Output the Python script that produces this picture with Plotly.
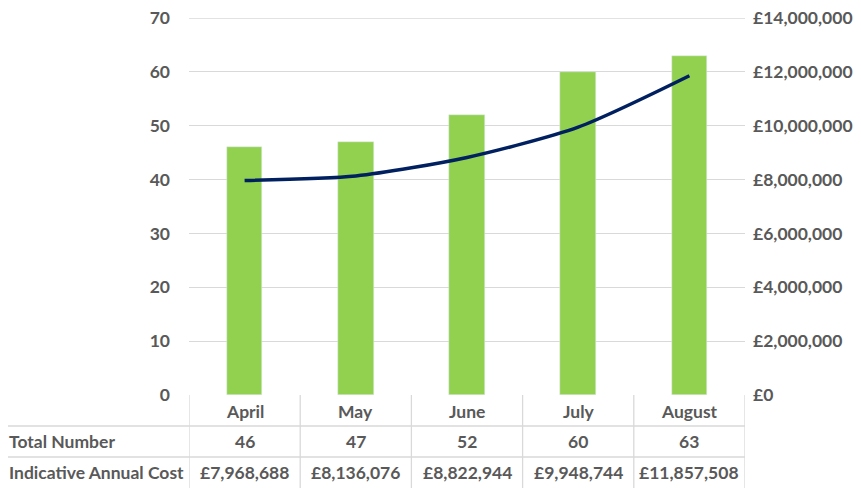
import plotly.graph_objects as go

months = ["April", "May", "June", "July", "August"]
total_number = [46, 47, 52, 60, 63]
annual_cost = [7968688, 8136076, 8822944, 9948744, 11857508]
row_labels = ["Total Number", "Indicative Annual Cost"]
left_ticks = [0, 10, 20, 30, 40, 50, 60, 70]
right_ticks = [0, 2000000, 4000000, 6000000, 8000000, 10000000, 12000000, 14000000]

FONT = "Lato"
TXT = "#595959"
GRID = "#D9D9D9"

W, H = 861, 488
OFF = 8  # page body margin offset
ml = 189 - OFF
mt = 18 - OFF
mr = W - (745 - OFF)
mb = H - (395 - OFF)
pw, ph = W - ml - mr, H - mt - mb

def py(pix):  # page pixel y -> paper y
    return (395 - pix) / ph

def px(pix):  # page pixel x -> paper x
    return (pix - 189) / pw

xs = list(range(len(months)))
tf = dict(family=FONT, size=17.5, color=TXT, weight="bold")

fig = go.Figure()
fig.add_trace(go.Bar(x=xs, y=total_number, marker_color="#92D050", width=0.32,
                     name="Total Number", yaxis="y"))
fig.add_trace(go.Scatter(x=xs, y=annual_cost, mode="lines", yaxis="y2",
                         line=dict(color="#002060", width=3.5, shape="spline", smoothing=0.7),
                         name="Indicative Annual Cost"))

ann = []
shapes = []
for i, m in enumerate(months):
    ann.append(dict(x=i, y=py(411), xref="x", yref="paper", text=m, showarrow=False,
                    yanchor="middle", font=tf))
    ann.append(dict(x=i, y=py(441), xref="x", yref="paper", text=str(total_number[i]),
                    showarrow=False, yanchor="middle", font=tf))
    ann.append(dict(x=i, y=py(472), xref="x", yref="paper", text="£{:,}".format(annual_cost[i]),
                    showarrow=False, yanchor="middle", font=tf))
for j, lab in enumerate(row_labels):
    ann.append(dict(x=px(7), y=py([441, 472][j]), xref="paper", yref="paper", text=lab,
                    xanchor="left", yanchor="middle", showarrow=False, font=tf))

# top gridline (at 70) drawn explicitly
shapes.append(dict(type="line", xref="paper", yref="y", x0=0, x1=1, y0=left_ticks[-1],
                   y1=left_ticks[-1], line=dict(color=GRID, width=1.3), layer="below"))
for i in range(len(months) + 1):
    shapes.append(dict(type="line", xref="x", yref="paper", x0=i - 0.5, x1=i - 0.5,
                       y0=0, y1=py(500), line=dict(color=GRID, width=1.3)))
for yy in [426, 457]:
    shapes.append(dict(type="line", xref="paper", yref="paper", x0=px(0), x1=1,
                       y0=py(yy), y1=py(yy), line=dict(color=GRID, width=1.3)))

fig.update_layout(
    width=W, height=H,
    margin=dict(l=ml, r=mr, t=mt, b=mb, autoexpand=False),
    plot_bgcolor="white", paper_bgcolor="white",
    showlegend=False, bargap=0,
    font=dict(family=FONT, size=17.5, color=TXT),
    xaxis=dict(range=[-0.5, 4.5], showticklabels=False, showgrid=False, zeroline=False,
               showline=False, fixedrange=True, automargin=False),
    yaxis=dict(range=[0, 70.02], tickvals=left_ticks,
               showgrid=True, gridcolor=GRID, gridwidth=1.3,
               zeroline=False, showline=False, ticks="", ticklabelstandoff=18,
               ticklabeloverflow="allow", automargin=False, tickfont=tf),
    yaxis2=dict(range=[0, 14004000], tickvals=right_ticks,
                ticktext=["£{:,}".format(v) for v in right_ticks],
                overlaying="y", side="right",
                showgrid=False, zeroline=False, showline=False, ticks="",
                ticklabelstandoff=7,
                ticklabeloverflow="allow", automargin=False, tickfont=tf),
    annotations=ann, shapes=shapes,
)
fig.write_html("out.html")
